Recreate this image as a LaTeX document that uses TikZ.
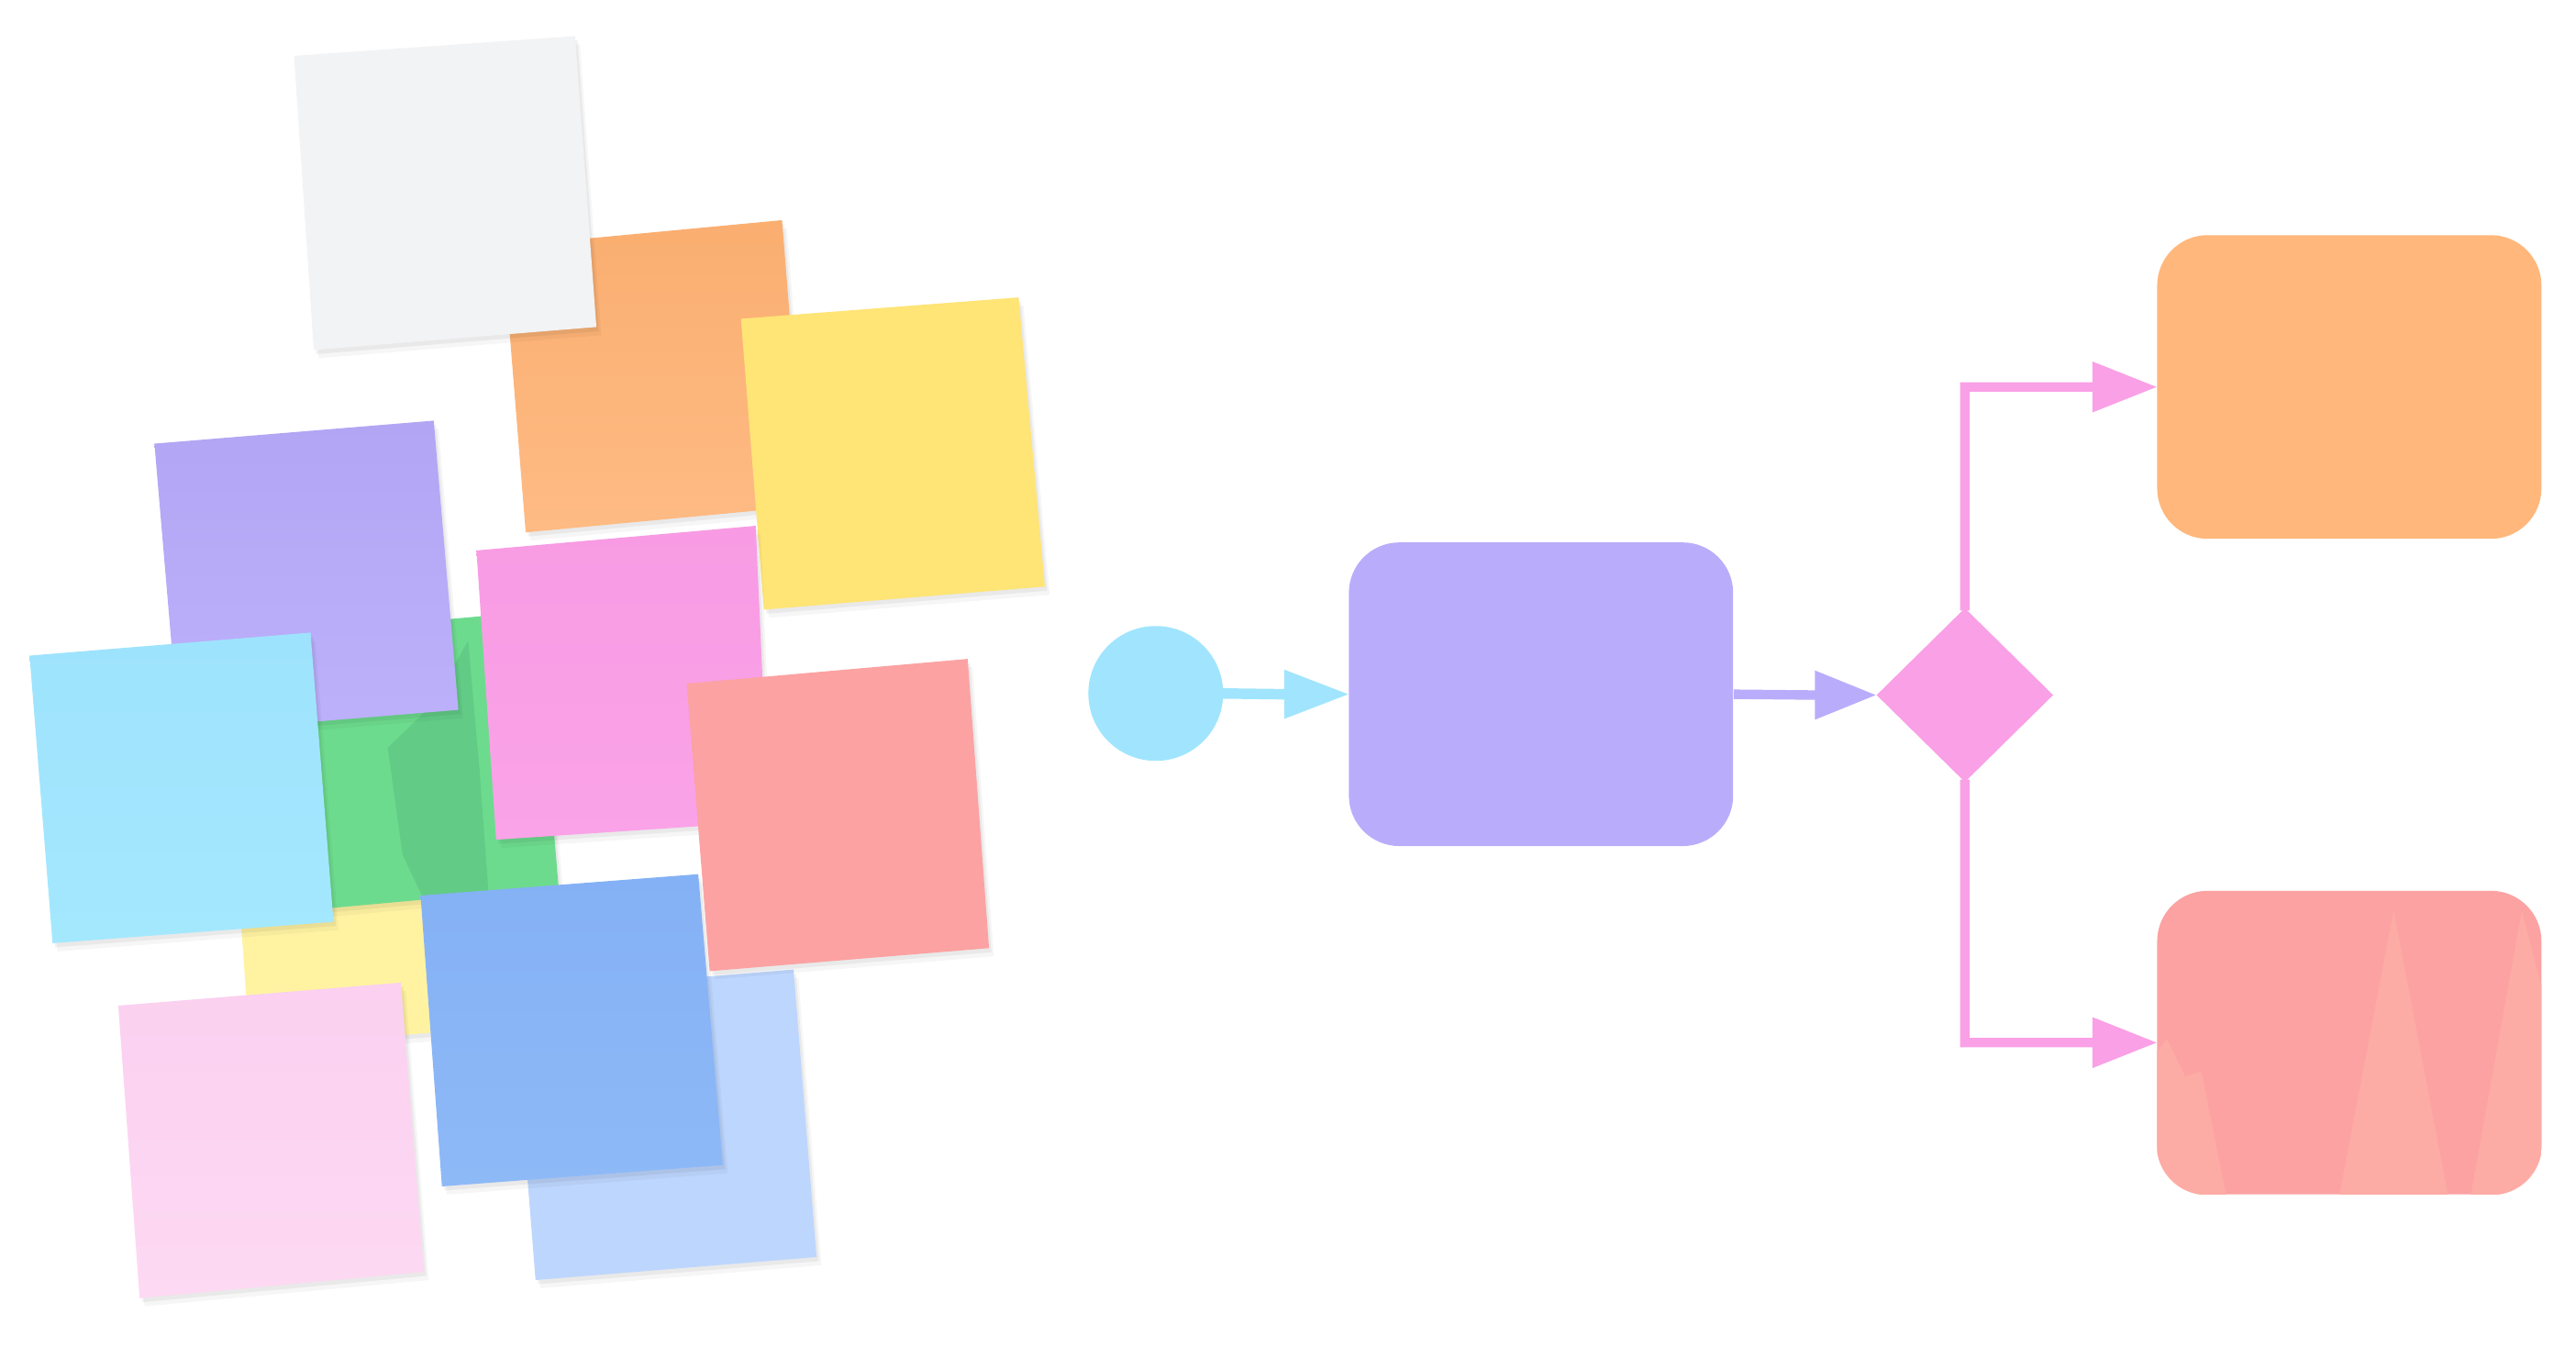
\documentclass[tikz,border=0pt]{standalone}
\usetikzlibrary{shapes.geometric,calc}
\definecolor{grayN}{HTML}{F2F3F5}
\definecolor{orangeT}{HTML}{FAAE70}
\definecolor{orangeB}{HTML}{FEBB84}
\definecolor{yellowN}{HTML}{FFE476}
\definecolor{purpleT}{HTML}{B2A5F4}
\definecolor{purpleB}{HTML}{BDB1FB}
\definecolor{greenN}{HTML}{6DDB8E}
\definecolor{greenD}{HTML}{62CC86}
\definecolor{pinkT}{HTML}{F89BE4}
\definecolor{pinkB}{HTML}{FAA3E8}
\definecolor{cyanT}{HTML}{9EE3FD}
\definecolor{cyanB}{HTML}{A4E8FE}
\definecolor{salmonN}{HTML}{FCA2A2}
\definecolor{lyellowN}{HTML}{FFF3A2}
\definecolor{blueT}{HTML}{84B1F5}
\definecolor{blueB}{HTML}{8EB9F7}
\definecolor{lblueN}{HTML}{BDD6FD}
\definecolor{lpinkT}{HTML}{FBD0F0}
\definecolor{lpinkB}{HTML}{FDD9F3}
\definecolor{cyanF}{HTML}{A0E5FD}
\definecolor{purpF}{HTML}{B9ADFB}
\definecolor{pinkF}{HTML}{F9A0E6}
\definecolor{orangeF}{HTML}{FFB77C}
\definecolor{salmonF}{HTML}{FCA2A2}
\definecolor{salmonL}{HTML}{FDABA5}
\newcommand\stickynote[5]{%
  \begin{scope}[shift={(3,5)}]\fill[black,opacity=0.035] (#2) -- (#3) -- (#4) -- (#5) -- cycle;\end{scope}
  \begin{scope}[shift={(1.5,2.5)}]\fill[black,opacity=0.05] (#2) -- (#3) -- (#4) -- (#5) -- cycle;\end{scope}
  \path[#1] (#2) -- (#3) -- (#4) -- (#5) -- cycle;}
\tikzset{
  flowbox/.style={rectangle, rounded corners=0.55cm, minimum width=4.19cm, minimum height=3.31cm, inner sep=0pt}
}
\begin{document}
\begin{tikzpicture}[x=0.017908cm,y=-0.017908cm]
\useasboundingbox[fill=white] (0,0) rectangle (1568,826);
% sticky notes, back to front
\stickynote{fill=lyellowN}{140,465}{310,452}{322,624}{152,637}
\stickynote{fill=greenN}{183,385}{326,372}{340,540}{197,553}
\fill[greenD] (236,455) -- (262,430) -- (285,390) -- (292,470) -- (298,552) -- (262,556) -- (245,520) -- cycle;
\stickynote{fill=lblueN}{312,604}{483,590}{497,765}{326,779}
\stickynote{top color=purpleT,bottom color=purpleB}{94,270}{264,256}{279,432}{109,446}
\stickynote{top color=cyanT,bottom color=cyanB}{18,399}{189,385}{203,561}{32,574}
\stickynote{top color=orangeT,bottom color=orangeB}{306,150}{476,134}{490,308}{320,324}
\stickynote{fill=grayN}{179,34}{350,22}{363,199}{191,213}
\stickynote{fill=yellowN}{451,194}{620,181}{636,357}{465,371}
\stickynote{top color=pinkT,bottom color=pinkB}{290,335}{460,320}{468,500}{302,511}
\stickynote{top color=blueT,bottom color=blueB}{256,545}{425,532}{440,709}{269,722}
\stickynote{fill=salmonN}{418,416}{589,401}{602,577}{432,591}
\stickynote{top color=lpinkT,bottom color=lpinkB}{72,612}{244,598}{258,774}{85,790}
% flowchart
\node[circle, fill=cyanF, minimum size=1.47cm, inner sep=0pt] (start) at (703.5,422) {};
\node[flowbox, fill=purpF] (proc) at (938,422.5) {};
\node[diamond, fill=pinkF, minimum width=1.93cm, minimum height=1.9cm, inner sep=0pt] (dec) at (1196,423) {};
\node[flowbox, fill=orangeF] (yes) at (1430,235.5) {};
\node[flowbox, fill=salmonF] (no) at (1430,634.5) {};
\begin{scope}
\clip[rounded corners=0.55cm] (no.south west) rectangle (no.north east);
\fill[salmonL] (1424,727) -- (1457,554) -- (1490,727) -- cycle;
\fill[salmonL] (1504,727) -- (1535,554) -- (1547,600) -- (1547,727) -- cycle;
\fill[salmonL] (1313,727) -- (1313,640) -- (1319,632) -- (1330,655) -- (1340,652) -- (1355,727) -- cycle;
\end{scope}
% connectors (filled shafts and triangular heads)
\fill[cyanF] ($(start.east)+(-2,-3.2)$) -- ($(proc.west)+(-39,-3.2)$) -- ($(proc.west)+(-39,-15)$) -- (proc.west)
  -- ($(proc.west)+(-39,15)$) -- ($(proc.west)+(-39,3.2)$) -- ($(start.east)+(-2,3.2)$) -- cycle;
\fill[purpF] ($(proc.east)+(0,-2.9)$) -- ($(dec.west)+(-37,-2.9)$) -- ($(dec.west)+(-37,-15)$) -- (dec.west)
  -- ($(dec.west)+(-37,15)$) -- ($(dec.west)+(-37,2.9)$) -- ($(proc.east)+(0,2.9)$) -- cycle;
\fill[pinkF] ($(dec.north)+(-2.9,2)$) -- ($(dec.north |- yes.west)+(-2.9,-2.9)$) -- ($(yes.west)+(-39,-2.9)$)
  -- ($(yes.west)+(-39,-15.5)$) -- (yes.west) -- ($(yes.west)+(-39,15.5)$) -- ($(yes.west)+(-39,2.9)$)
  -- ($(dec.north |- yes.west)+(2.9,2.9)$) -- ($(dec.north)+(2.9,2)$) -- cycle;
\fill[pinkF] ($(dec.south)+(-2.9,-2)$) -- ($(dec.south |- no.west)+(-2.9,2.9)$) -- ($(no.west)+(-39,2.9)$)
  -- ($(no.west)+(-39,15.5)$) -- (no.west) -- ($(no.west)+(-39,-15.5)$) -- ($(no.west)+(-39,-2.9)$)
  -- ($(dec.south |- no.west)+(2.9,-2.9)$) -- ($(dec.south)+(2.9,-2)$) -- cycle;
\end{tikzpicture}
\end{document}
